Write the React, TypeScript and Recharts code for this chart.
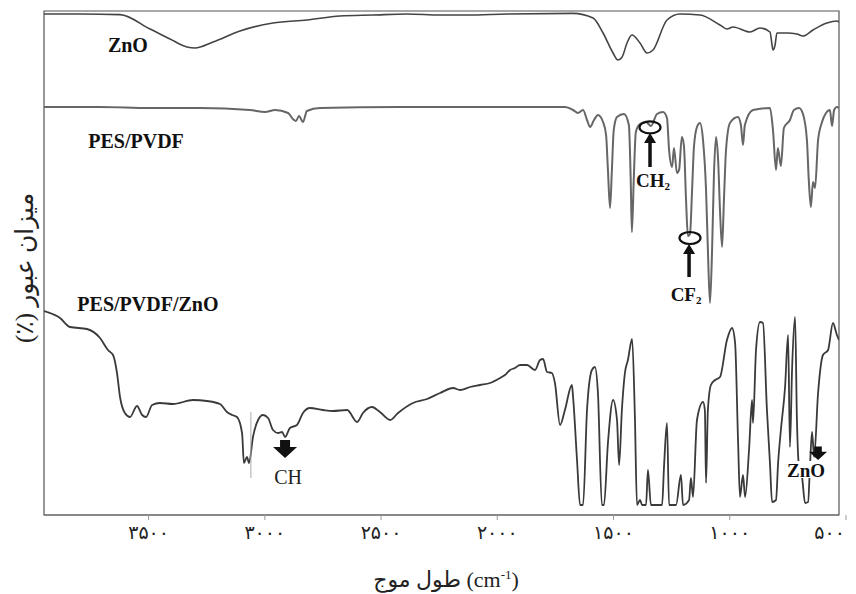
import { LineChart, Line, XAxis, YAxis, ReferenceArea, ReferenceDot, ReferenceLine } from "recharts";

// wavenumber (cm-1) and stacked transmittance (arbitrary units, offset per trace)
const X_TICKS = [3500, 3000, 2500, 2000, 1500, 1000, 500];

const ZNO = [
  [3950, 125.25], [3795, 125.25], [3623, 125.1], [3494, 121.5], [3408, 119], [3335, 117], [3300, 116.75],
  [3223, 118.25], [3107, 121], [2965, 123], [2819, 123.75], [2677, 124.75], [2535, 125], [2388, 125.25],
  [2246, 125], [2130, 125], [1958, 125.25], [1674, 125.4], [1588, 124.25], [1545, 120.5], [1502, 115.5],
  [1481, 113.75], [1463, 114.5], [1442, 118], [1421, 120], [1386, 118], [1356, 115.5], [1330, 116.25],
  [1270, 123.75], [1214, 125.25], [1128, 125], [1042, 122.5], [1012, 121.5], [986, 122], [913, 120.75],
  [870, 121.75], [827, 120.75], [818, 117.5], [814, 116.25], [805, 117.5], [797, 120.5], [754, 120.5],
  [711, 120.25], [685, 119.75], [642, 121.25], [582, 123], [539, 123.5], [530, 123.25],
];

const PES_PVDF = [
  [3950, 102], [3709, 102], [3494, 101.75], [3279, 101.75], [3064, 101.25], [2999, 100.75], [2956, 101.25],
  [2900, 100.5], [2879, 99], [2866, 98.5], [2853, 99.75], [2836, 98.25], [2819, 101], [2763, 101.75],
  [2419, 102], [1988, 102], [1709, 102], [1674, 101.25], [1653, 100.5], [1631, 101.25], [1614, 98.75],
  [1601, 97], [1584, 98.75], [1567, 100], [1545, 98.25], [1532, 95], [1524, 86.25], [1515, 76.75],
  [1507, 86.25], [1499, 96.25], [1485, 99.5], [1455, 100.25], [1434, 97.5], [1426, 83.75], [1421, 70.75],
  [1413, 83.75], [1404, 95.75], [1386, 97.75], [1360, 98.25], [1339, 97.25], [1313, 100.25], [1287, 100.75],
  [1270, 99.25], [1261, 91.25], [1248, 87], [1240, 91.75], [1227, 85.5], [1218, 86.25], [1206, 94.5],
  [1197, 92.25], [1188, 78.75], [1180, 69.75], [1171, 70.25], [1162, 81.25], [1154, 92], [1141, 97],
  [1128, 98], [1115, 93.75], [1102, 81.25], [1094, 66.25], [1085, 53], [1076, 66.25], [1068, 85],
  [1059, 94.5], [1050, 88.75], [1042, 76.25], [1033, 67], [1025, 78.75], [1016, 91.25], [999, 98],
  [965, 99.5], [952, 97.5], [943, 92.5], [935, 97.5], [900, 101.25], [827, 101.75], [814, 96.25],
  [801, 86.25], [793, 91.75], [780, 87.25], [767, 96.75], [741, 98.75], [724, 101.25], [702, 101.75],
  [685, 100.25], [668, 93.75], [660, 83.75], [651, 77], [642, 83.25], [633, 81.75], [620, 93.75],
  [603, 98.25], [586, 100.5], [569, 101.25], [560, 97.25], [551, 101.25], [539, 102], [530, 101.75],
];

const PES_PVDF_ZNO = [
  [3950, 51], [3937, 50.75], [3881, 49.25], [3838, 47], [3765, 46.5], [3709, 44.25], [3675, 41.25],
  [3653, 40], [3636, 35.5], [3623, 29.5], [3602, 25.5], [3580, 24.5], [3550, 27.25], [3528, 25],
  [3511, 24.5], [3485, 27.5], [3451, 28], [3395, 27.75], [3309, 28.75], [3249, 28.5], [3193, 27.75],
  [3163, 25.75], [3141, 25], [3120, 24.5], [3098, 20.5], [3090, 13], [3077, 14.5], [3068, 13],
  [3051, 19.5], [3029, 23.75], [3008, 25], [2986, 24.25], [2965, 21.25], [2943, 20.5], [2926, 20.75],
  [2913, 19.5], [2892, 21.75], [2862, 22.5], [2836, 25.5], [2806, 26.75], [2750, 26.25], [2707, 26],
  [2646, 26.25], [2603, 23.25], [2578, 25.5], [2539, 27], [2505, 25.75], [2461, 23.75], [2427, 25.5],
  [2363, 28], [2302, 29], [2246, 30.5], [2190, 31.75], [2160, 31.25], [2117, 32], [2074, 32.5],
  [2031, 33], [1988, 34.25], [1967, 35], [1945, 36.25], [1924, 36.75], [1902, 37.5], [1872, 37.5],
  [1838, 36.25], [1816, 38.75], [1803, 39], [1786, 35.75], [1765, 35.5], [1752, 33], [1730, 22.5],
  [1709, 26.25], [1679, 32.5], [1674, 29.5], [1657, 13.75], [1644, 2.5], [1631, 2.5], [1614, 26.25],
  [1593, 36.25], [1580, 37], [1567, 30.5], [1550, 2.5], [1541, 2.5], [1524, 18], [1502, 28.75],
  [1485, 23.75], [1476, 12.5], [1464, 26.25], [1451, 35.5], [1438, 38.75], [1420, 44], [1408, 24.5],
  [1399, 2.5], [1386, 3.75], [1377, 2.5], [1360, 2.5], [1352, 11.25], [1339, 2.5], [1291, 2.5],
  [1283, 11.75], [1270, 23], [1261, 2.5], [1231, 2.5], [1210, 10], [1201, 2.5], [1175, 3.75],
  [1167, 9.25], [1158, 4.5], [1141, 23.75], [1115, 28.25], [1107, 26.25], [1102, 8], [1094, 26.25],
  [1081, 32.5], [1063, 33.75], [1042, 34.5], [1012, 43.75], [990, 46.75], [977, 43], [964, 18],
  [956, 4.5], [943, 10], [934, 4.5], [917, 16.25], [904, 28.75], [900, 23], [887, 41.25], [870, 48.25],
  [857, 48], [840, 26.25], [827, 13], [818, 3.25], [801, 3.75], [792, 13], [780, 21.25], [762, 32],
  [749, 45], [741, 17], [732, 36.25], [719, 49.5], [711, 23.75], [702, 12], [689, 9.5], [676, 3],
  [663, 3.25], [655, 12], [646, 20.75], [637, 14.5], [620, 30.5], [599, 40], [577, 41.25], [556, 48],
  [539, 45], [530, 43.75],
];

const SERIES_NAMES = [
  { text: "ZnO", wn: 3589, t: 117.5 },
  { text: "PES/PVDF", wn: 3554, t: 93.5 },
  { text: "PES/PVDF/ZnO", wn: 3503, t: 52.75 },
];

const toRows = (pts: number[][]) => pts.map(([wn, t]) => ({ wn, t }));
const faDigits = (n: number) => String(n).replace(/\d/g, (d) => "۰۱۲۳۴۵۶۷۸۹"[+d]);

const SERIF = "'Liberation Serif', 'Times New Roman', 'DejaVu Serif', serif";
const FA = "'Liberation Serif', 'DejaVu Sans', serif";

// tick text; the last one (at the right edge) is end-anchored so it stays in view
function WnTick({ x, y, payload }: any) {
  const last = payload.value === X_TICKS[X_TICKS.length - 1];
  return (
    <text
      x={last ? x - 1 : x}
      y={y}
      dy="0.71em"
      textAnchor={last ? "end" : "middle"}
      fontFamily={FA}
      fontSize={19}
      letterSpacing={5}
      fill="#222"
    >
      {faDigits(payload.value)}
    </text>
  );
}

const nameLabel = (text: string) => (p: any) => (
  <text x={p.cx} y={p.cy} textAnchor="middle" dominantBaseline="central" fontFamily={SERIF} fontWeight="bold" fontSize={20} fill="#111">
    {text}
  </text>
);

const subLabel = (main: string, sub: string) => (p: any) => (
  <text x={p.cx} y={p.cy} textAnchor="middle" dominantBaseline="central" fontFamily={SERIF} fontWeight="bold" fontSize={19} fill="#111">
    <tspan>{main}</tspan>
    <tspan fontSize={11} dy={6}>{sub}</tspan>
  </text>
);

const ring = (p: any) => <ellipse cx={p.cx} cy={p.cy} rx={10.5} ry={6} fill="none" stroke="#111" strokeWidth={2.2} />;
const upHead = (p: any) => <path d={`M${p.cx},${p.cy} l-6,10 l12,0 z`} fill="#111" />;
const blockDown = (scale: number) => (p: any) => (
  <path
    transform={`translate(${p.cx},${p.cy}) scale(${scale})`}
    d="M-5,-18 L5,-18 L5,-11 L12,-11 L0,0 L-12,-11 L-5,-11 Z"
    fill="#111"
  />
);
const plainLabel = (text: string) => (p: any) => (
  <text x={p.cx} y={p.cy} textAnchor="middle" dominantBaseline="central" fontFamily={SERIF} fontSize={20} fill="#222">
    {text}
  </text>
);
const boxedLabel = (text: string) => (p: any) => (
  <g>
    <rect x={p.cx - 21} y={p.cy - 9} width={42} height={17} fill="#fff" />
    <text x={p.cx} y={p.cy} textAnchor="middle" dominantBaseline="central" fontFamily={SERIF} fontWeight="bold" fontSize={19} fill="#111">
      {text}
    </text>
  </g>
);

export default function App() {
  return (
    <div style={{ position: "relative", width: 848, height: 586 }}>
      <LineChart width={848} height={578} margin={{ top: 3, right: 17, left: 36, bottom: 41 }}>
        <XAxis
          dataKey="wn"
          type="number"
          domain={[530, 3950]}
          allowDataOverflow
          reversed
          ticks={X_TICKS}
          interval={0}
          height={30}
          tickSize={5}
          tickMargin={6}
          axisLine={{ stroke: "#666" }}
          tickLine={{ stroke: "#999" }}
          tick={<WnTick />}
        />
        <YAxis type="number" domain={[0, 126]} allowDataOverflow hide />
        <ReferenceArea x1={530} x2={3950} y1={0} y2={126} fill="none" stroke="#555" strokeWidth={1.2} />

        <Line data={toRows(ZNO)} dataKey="t" type="monotone" stroke="#444" strokeWidth={1.6} dot={false} isAnimationActive={false} />
        <Line data={toRows(PES_PVDF)} dataKey="t" type="monotone" stroke="#666" strokeWidth={2} dot={false} isAnimationActive={false} />
        <Line data={toRows(PES_PVDF_ZNO)} dataKey="t" type="monotone" stroke="#3a3a3a" strokeWidth={1.8} dot={false} isAnimationActive={false} />

        {SERIES_NAMES.map((s) => (
          <ReferenceDot key={s.text} x={s.wn} y={s.t} r={0} shape={nameLabel(s.text)} />
        ))}

        {/* CH2 marker */}
        <ReferenceDot x={1343} y={96.9} r={0} shape={ring} />
        <ReferenceLine segment={[{ x: 1343, y: 87 }, { x: 1343, y: 93.5 }]} stroke="#111" strokeWidth={3.5} />
        <ReferenceDot x={1343} y={95.5} r={0} shape={upHead} />
        <ReferenceDot x={1330} y={83.75} r={0} shape={subLabel("CH", "2")} />

        {/* CF2 marker */}
        <ReferenceDot x={1171} y={69.25} r={0} shape={ring} />
        <ReferenceLine segment={[{ x: 1175, y: 59.5 }, { x: 1175, y: 66 }]} stroke="#111" strokeWidth={3.5} />
        <ReferenceDot x={1175} y={67.75} r={0} shape={upHead} />
        <ReferenceDot x={1188} y={55.25} r={0} shape={subLabel("CF", "2")} />

        {/* CH marker */}
        <ReferenceLine segment={[{ x: 3060, y: 25.75 }, { x: 3060, y: 9.25 }]} stroke="#aaa" strokeWidth={1} />
        <ReferenceDot x={2913} y={14.25} r={0} shape={blockDown(1)} />
        <ReferenceDot x={2900} y={9.5} r={0} shape={plainLabel("CH")} />

        {/* ZnO marker */}
        <ReferenceDot x={672} y={11.25} r={0} shape={boxedLabel("ZnO")} />
        <ReferenceDot x={620} y={13.75} r={0} shape={blockDown(0.75)} />
      </LineChart>

      <div
        style={{
          position: "absolute",
          left: 16,
          top: 260,
          transform: "translate(-50%, -50%) rotate(-90deg)",
          whiteSpace: "nowrap",
          direction: "rtl",
          fontFamily: FA,
          fontSize: 25,
          color: "#222",
        }}
      >
        میزان عبور (٪)
      </div>
      <div
        style={{
          position: "absolute",
          left: 438,
          top: 572,
          transform: "translate(-50%, -50%)",
          whiteSpace: "nowrap",
          direction: "ltr",
          fontFamily: FA,
          fontSize: 22,
          color: "#222",
        }}
      >
        طول موج (cm<sup style={{ fontSize: 13 }}>-1</sup>)
      </div>
    </div>
  );
}
